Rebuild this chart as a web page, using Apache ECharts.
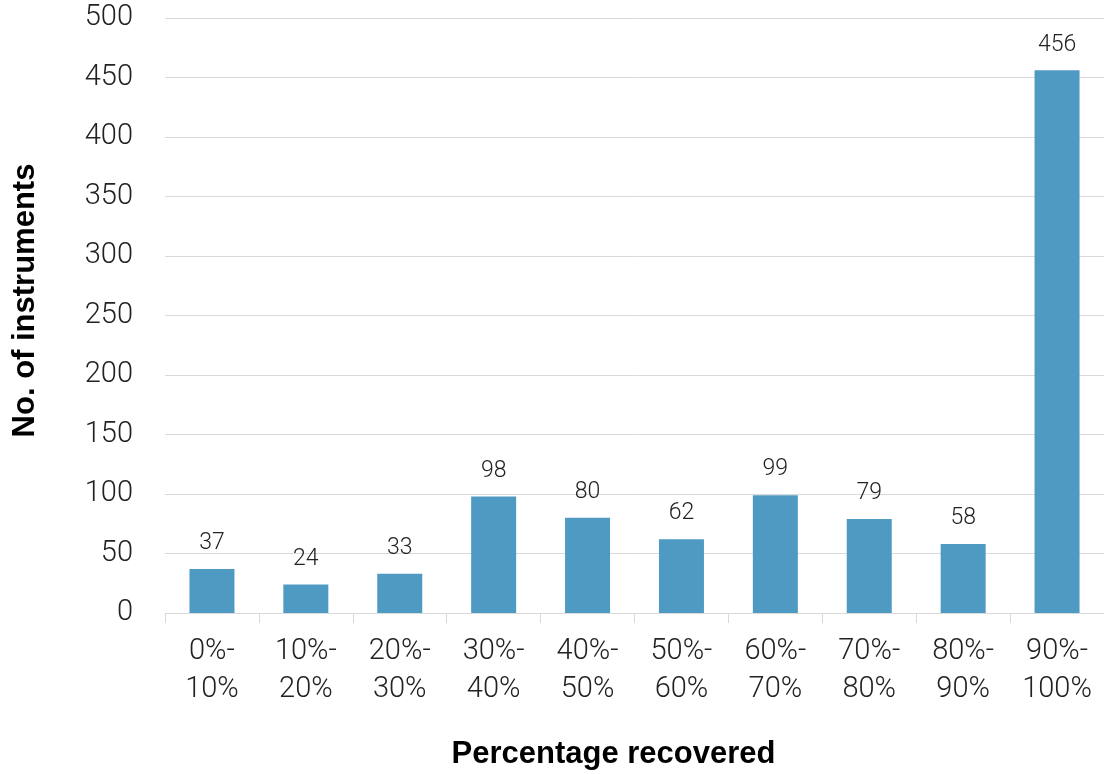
<!DOCTYPE html>
<html>
<head>
<meta charset="utf-8">
<script src="https://cdn.jsdelivr.net/npm/echarts@6/dist/echarts.min.js"></script>
<style>
html, body { margin: 0; padding: 0; background: #fff; }
#chart { width: 1104px; height: 774px; }
</style>
</head>
<body>
<div id="chart"></div>
<script>
const categories = ["0%-\n10%", "10%-\n20%", "20%-\n30%", "30%-\n40%", "40%-\n50%",
    "50%-\n60%", "60%-\n70%", "70%-\n80%", "80%-\n90%", "90%-\n100%"];
const counts = [37, 24, 33, 98, 80, 62, 99, 79, 58, 456];
const yTicks = { min: 0, max: 500, interval: 50 };

const chart = echarts.init(document.getElementById("chart"));
const options = {
    animation: false,
    grid: {
        left: 165,
        right: 0,
        top: 18,
        bottom: 161,
        outerBoundsMode: "none"
    },
    xAxis: {
        type: "category",
        data: categories,
        name: "Percentage recovered",
        nameLocation: "middle",
        nameGap: 126,
        nameTextStyle: {
            fontFamily: "Liberation Sans",
            fontWeight: "bold",
            fontSize: 31,
            color: "#000",
            padding: [0, 42, 0, 0]
        },
        axisLine: { lineStyle: { color: "#d9d9d9", width: 1 } },
        axisTick: { show: true, length: 10, lineStyle: { color: "#d9d9d9" } },
        axisLabel: {
            margin: 20,
            fontFamily: "Roboto",
            fontWeight: 300,
            fontSize: 29,
            lineHeight: 38,
            color: "#222"
        }
    },
    yAxis: {
        type: "value",
        min: yTicks.min,
        max: yTicks.max,
        interval: yTicks.interval,
        name: "No. of instruments",
        nameLocation: "middle",
        nameGap: 124,
        nameTextStyle: {
            fontFamily: "Liberation Sans",
            fontWeight: "bold",
            fontSize: 31,
            color: "#000",
            padding: [0, 0, 0, 30]
        },
        axisLine: { show: false },
        axisTick: { show: false },
        axisLabel: {
            margin: 32,
            fontFamily: "Roboto",
            fontWeight: 300,
            fontSize: 29,
            color: "#222"
        },
        splitLine: { lineStyle: { color: "#d9d9d9", width: 1 } }
    },
    series: [{
        type: "bar",
        data: counts,
        barWidth: 45,
        itemStyle: { color: "#4f9ac3" },
        label: {
            show: true,
            position: "top",
            distance: 14,
            fontFamily: "Roboto",
            fontWeight: 300,
            fontSize: 23,
            color: "#222"
        }
    }]
};
chart.setOption(options);
</script>
</body>
</html>
